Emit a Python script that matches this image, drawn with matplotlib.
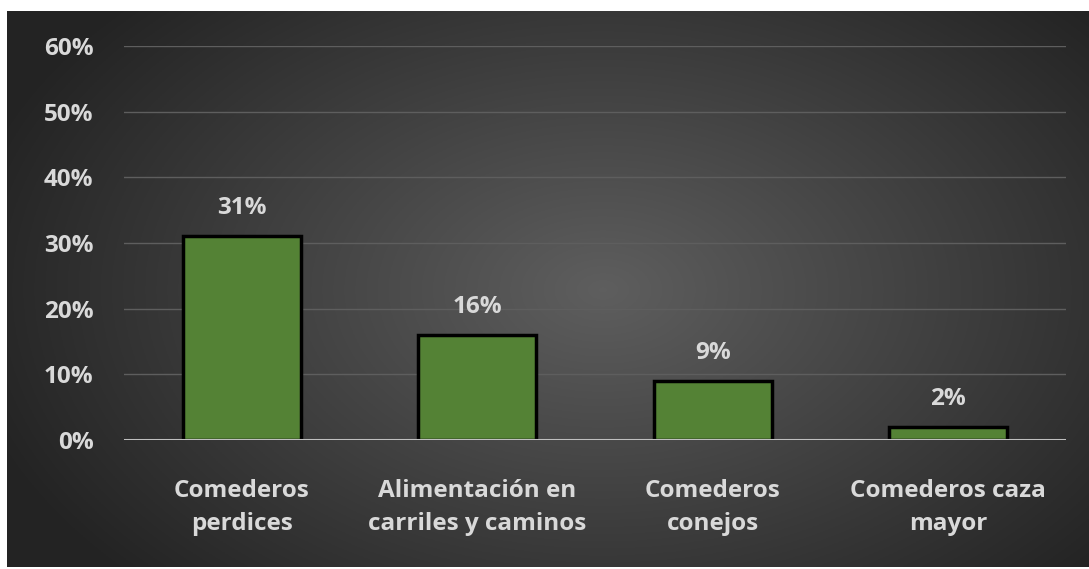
import matplotlib.pyplot as plt
import numpy as np
from matplotlib.ticker import PercentFormatter

categories = ["Comederos\nperdices", "Alimentación en\ncarriles y caminos",
              "Comederos\nconejos", "Comederos caza\nmayor"]
values = [0.31, 0.16, 0.09, 0.02]
value_labels = ["31%", "16%", "9%", "2%"]
yticks = [0, 0.1, 0.2, 0.3, 0.4, 0.5, 0.6]

text_color = "#d9d9d9"
bar_color = "#548235"
plt.rcParams["font.family"] = ["Open Sans", "DejaVu Sans"]
plt.rcParams["font.weight"] = "bold"

fig = plt.figure(figsize=(10.89, 5.69), dpi=100, facecolor="white")

# dark radial-gradient panel behind the chart
bg = fig.add_axes([7 / 1089, 2 / 569, 1082 / 1089, 556 / 569])
ny, nx = 300, 600
yy, xx = np.mgrid[0:ny, 0:nx]
r = np.sqrt(((xx - 0.55 * nx) / (0.6 * nx)) ** 2 + ((yy - 0.5 * ny) / (0.75 * ny)) ** 2)
shade = np.clip(0.37 - 0.23 * r, 0.14, 0.37)
bg.imshow(np.dstack([shade] * 3), aspect="auto", extent=[0, 1, 0, 1])
bg.axis("off")

ax = fig.add_axes([124 / 1089, 129 / 569, 942 / 1089, 394 / 569])
ax.patch.set_alpha(0)
x = np.arange(len(categories))
ax.bar(x, values, width=0.5, color=bar_color, edgecolor="black", linewidth=2.5, zorder=3)

fs = 17.5
for xi, v, lab in zip(x, values, value_labels):
    ax.annotate(lab, (xi, v), xytext=(0, 11.5), textcoords="offset points",
                ha="center", va="bottom", color=text_color, fontsize=fs, fontweight="bold")

ax.set_xlim(-0.5, len(categories) - 0.5)
ax.set_ylim(0, 0.6)
ax.set_yticks(yticks)
ax.yaxis.set_major_formatter(PercentFormatter(1.0, decimals=0))
ax.set_xticks(x)
ax.set_xticklabels(categories, linespacing=1.5)
ax.tick_params(axis="x", length=0, pad=28, labelsize=fs, labelcolor=text_color)
ax.tick_params(axis="y", length=0, pad=22, labelsize=fs, labelcolor=text_color)
for lab in ax.get_xticklabels() + ax.get_yticklabels():
    lab.set_fontweight("bold")

ax.grid(axis="y", color="#5e5e5e", linewidth=1, zorder=0)
ax.axhline(0, color="#bfbfbf", linewidth=2.2, zorder=4)
for s in ax.spines.values():
    s.set_visible(False)

fig.savefig("out.png", dpi=100)
